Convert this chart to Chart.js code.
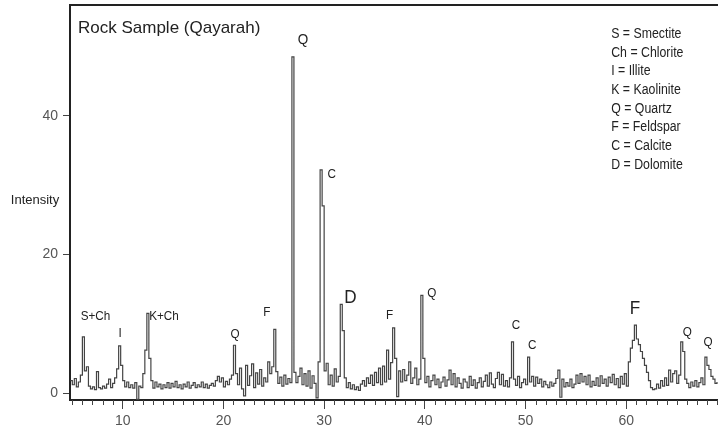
<!DOCTYPE html>
<html>
<head>
<meta charset="utf-8">
<script src="https://cdn.jsdelivr.net/npm/chart.js@4"></script>
<style>
  html, body { margin: 0; padding: 0; background: #fff; }
  canvas { display: block; }
</style>
</head>
<body>
<canvas id="xrd" width="718" height="435"></canvas>
<script>
// 2-theta grid of the scan (degrees)
const thetaStart = 4.8;
const thetaStep = 0.2;

// intensity, one value per grid step
const intensity = [
  1.8,
  1.2, 2.1, 0.9, 1.6, 2.6,     // 5
  8.1, 3.2, 3.8, 1.0, 0.6,     // 6
  0.9, 0.5, 3.1, 0.8, 0.6,     // 7
  1.0, 0.7, 1.3, 2.0, 0.8,     // 8
  1.4, 2.2, 3.5, 6.8, 4.0,     // 9
  1.8, 0.9, 1.6, 0.8, 1.2,     // 10
  0.7, 1.5, -0.9, 1.0, 0.8,    // 11
  2.8, 6.2, 11.5, 5.0, 1.8,    // 12
  0.7, 1.6, 0.9, 1.3, 0.6,     // 13
  1.2, 0.8, 1.5, 0.7, 1.4,     // 14
  0.9, 1.7, 0.8, 1.2, 0.6,     // 15
  1.3, 0.9, 1.6, 0.7, 1.1,     // 16
  1.5, 0.8, 1.2, 0.9, 1.6,     // 17
  0.8, 1.3, 0.7, 1.1, 1.4,     // 18
  1.0, 1.8, 2.4, 1.6, 2.2,     // 19
  0.9, 1.7, 1.2, 2.0, 2.6,     // 20
  6.9, 2.8, 1.2, 3.6, 0.6,     // 21
  -0.4, 4.0, 1.1, 2.5, 4.2,    // 22
  0.8, 2.9, 1.3, 3.4, 1.0,     // 23
  2.2, 1.6, 4.5, 2.8, 3.8,     // 24
  9.2, 3.1, 1.4, 2.3, 1.0,     // 25
  2.6, 1.3, 2.1, 1.5, 48.5,    // 26
  3.0, 1.5, 2.4, 3.6, 1.2,     // 27
  2.8, 1.0, 3.2, 0.7, 2.5,     // 28
  1.4, -0.7, 4.5, 32.2, 27.0,  // 29
  3.2, 4.3, 1.2, 2.6, 1.0,     // 30
  3.5, 1.6, 2.4, 12.8, 9.0,    // 31
  2.2, 0.8, 1.5, 0.6, 1.2,     // 32
  0.5, 0.9, 0.4, 1.3, 1.8,     // 33
  1.0, 2.2, 1.4, 2.6, 1.1,     // 34
  3.0, 1.5, 3.6, 1.2, 3.9,     // 35
  1.6, 6.2, 2.0, 4.4, 9.4,     // 36
  5.0, -0.5, 3.2, 1.6, 3.4,    // 37
  1.8, 2.6, 4.5, 1.4, 2.2,     // 38
  3.6, 1.2, 2.0, 14.1, 5.0,    // 39
  1.5, 2.4, 0.9, 1.8, 2.6,     // 40
  1.2, 2.0, 0.8, 1.6, 2.3,     // 41
  1.0, 1.9, 3.3, 1.2, 2.8,     // 42
  0.9, 2.2, 1.4, 0.7, 2.0,     // 43
  1.6, 0.8, 2.4, 1.1, 1.9,     // 44
  0.7, 1.5, 2.2, 0.9, 1.7,     // 45
  2.6, 1.0, 2.9, 1.3, 0.8,     // 46
  2.1, 3.0, 1.2, 2.7, 1.0,     // 47
  1.8, 0.9, 2.2, 7.4, 2.0,     // 48
  1.1, 2.4, 0.8, 1.5, 2.0,     // 49
  1.2, 5.2, 1.6, 2.4, 1.0,     // 50
  2.3, 1.4, 2.0, 0.9, 1.7,     // 51
  1.2, 0.8, 1.6, 1.0, 1.4,     // 52
  2.1, 3.3, -0.6, 2.0, 0.9,    // 53
  1.5, 1.0, 2.0, 0.8, 1.3,     // 54
  2.6, 1.4, 2.8, 1.6, 2.4,     // 55
  1.2, 2.6, 0.9, 1.7, 1.1,     // 56
  2.2, 1.0, 2.5, 1.4, 2.0,     // 57
  1.0, 2.3, 1.5, 2.7, 1.2,     // 58
  2.1, 0.8, 2.4, 1.3, 2.8,     // 59
  1.0, 4.5, 6.5, 7.6, 9.8,     // 60
  7.8, 7.0, 6.0, 5.0, 4.0,     // 61
  3.0, 1.8, 0.8, 0.5, 0.6,     // 62
  1.3, 0.7, 1.8, 1.0, 2.2,     // 63
  1.1, 3.3, 1.6, 2.8, 3.2,     // 64
  1.4, 2.6, 7.4, 6.0, 2.0,     // 65
  1.4, 0.8, 1.6, 1.0, 1.8,     // 66
  0.9, 1.5, 2.2, 1.2, 5.2,     // 67
  4.0, 3.4, 2.4, 2.0, 1.4,     // 68
  1.6
];

const xTicks = [10, 20, 30, 40, 50, 60];
const yTicks = [0, 20, 40];

// mineral labels over the peaks: text, 2-theta, intensity
const peakText  = ['S+Ch', 'I', 'K+Ch', 'Q', 'F', 'Q', 'C', 'D', 'F', 'Q', 'C', 'C', 'F', 'Q', 'Q'];
const peakTheta = [7.3, 9.75, 14.1, 21.15, 24.3, 27.9, 30.75, 32.6, 36.5, 40.7, 49.05, 50.65, 60.85, 66.05, 68.1];
const peakLevel = [11.0, 8.6, 11.0, 8.4, 11.6, 50.9, 31.6, 13.8, 11.2, 14.4, 9.7, 6.9, 12.1, 8.8, 7.3];

const legendLines = ['S = Smectite', 'Ch = Chlorite', 'I = Illite', 'K = Kaolinite',
  'Q = Quartz', 'F = Feldspar', 'C = Calcite', 'D = Dolomite'];

const chartTitle = 'Rock Sample (Qayarah)';
const yTitle = 'Intensity';

const points = intensity.map((v, i) => ({ x: thetaStart + i * thetaStep, y: v }));

function drawText(ctx, text, x, y, size, align, squeeze) {
    ctx.save();
    ctx.font = size + 'px "Liberation Sans", Arial, sans-serif';
    ctx.textBaseline = 'middle';
    ctx.textAlign = 'left';
    const w = ctx.measureText(text).width * squeeze;
    let left = x;
    if (align === 'center') left = x - w / 2;
    if (align === 'right') left = x - w;
    ctx.translate(left, y);
    ctx.scale(squeeze, 1);
    ctx.fillText(text, 0, 0);
    ctx.restore();
}

const decorations = {
    id: 'decorations',
    beforeDraw(chart) {
        const ctx = chart.ctx;
        ctx.save();
        ctx.fillStyle = '#fff';
        ctx.fillRect(0, 0, chart.width, chart.height);
        ctx.restore();
    },
    afterDraw(chart) {
        const { ctx, chartArea, scales } = chart;
        const x = scales.x, y = scales.y;

        ctx.save();
        // top frame line
        ctx.strokeStyle = '#222';
        ctx.lineWidth = 2;
        ctx.beginPath();
        ctx.moveTo(chartArea.left - 1, chartArea.top);
        ctx.lineTo(chartArea.right, chartArea.top);
        ctx.stroke();

        // minor ticks every degree
        ctx.strokeStyle = '#444';
        ctx.lineWidth = 1;
        for (let v = Math.ceil(x.min); v <= x.max; v++) {
            if (v % 10 === 0) continue;
            const px = Math.round(x.getPixelForValue(v)) + 0.5;
            ctx.beginPath();
            ctx.moveTo(px, chartArea.bottom);
            ctx.lineTo(px, chartArea.bottom + 5);
            ctx.stroke();
        }

        ctx.fillStyle = '#222';
        drawText(ctx, chartTitle, chartArea.left + 8, chartArea.top + 23, 17, 'left', 1);
        drawText(ctx, yTitle, chartArea.left / 2, y.getPixelForValue(27.8), 13, 'center', 1);

        legendLines.forEach((t, i) => {
            drawText(ctx, t, x.getPixelForValue(58.5), chartArea.top + 29 + i * 18.7, 14, 'left', 0.88);
        });

        peakText.forEach((t, i) => {
            let size = 13;
            if (t === 'D' || (t === 'F' && peakTheta[i] > 60)) size = 19;
            if (peakLevel[i] > 40) size = 15;
            drawText(ctx, t, x.getPixelForValue(peakTheta[i]), y.getPixelForValue(peakLevel[i]), size, 'center', 0.9);
        });
        ctx.restore();
    }
};

new Chart(document.getElementById('xrd'), {
    type: 'line',
    data: {
        datasets: [{
            data: points,
            borderColor: '#444',
            borderWidth: 1.2,
            pointRadius: 0,
            stepped: true,
            fill: false
        }]
    },
    options: {
        responsive: false,
        animation: false,
        layout: { padding: { top: 5, right: 0, left: 0, bottom: 0 } },
        plugins: {
            legend: { display: false },
            tooltip: { enabled: false }
        },
        scales: {
            x: {
                type: 'linear',
                min: 4.77,
                max: 69.1,
                afterBuildTicks: s => { s.ticks = xTicks.map(v => ({ value: v })); },
                afterFit: s => { s.height = 35; s.paddingLeft = 0; s.paddingRight = 0; },
                grid: { drawOnChartArea: false, tickLength: 9, tickColor: '#444', tickWidth: 1 },
                border: { display: true, color: '#222', width: 2 },
                ticks: {
                    color: '#555',
                    padding: 4,
                    font: { family: '"Liberation Sans", Arial, sans-serif', size: 14 },
                    maxRotation: 0
                }
            },
            y: {
                min: -1,
                max: 56,
                afterBuildTicks: s => { s.ticks = yTicks.map(v => ({ value: v })); },
                afterFit: s => { s.width = 70; s.paddingTop = 0; s.paddingBottom = 0; },
                grid: { drawOnChartArea: false, tickLength: 7, tickColor: '#444', tickWidth: 1 },
                border: { display: true, color: '#222', width: 2 },
                ticks: {
                    color: '#555',
                    padding: 5,
                    font: { family: '"Liberation Sans", Arial, sans-serif', size: 14 }
                }
            }
        }
    },
    plugins: [decorations]
});
</script>
</body>
</html>
